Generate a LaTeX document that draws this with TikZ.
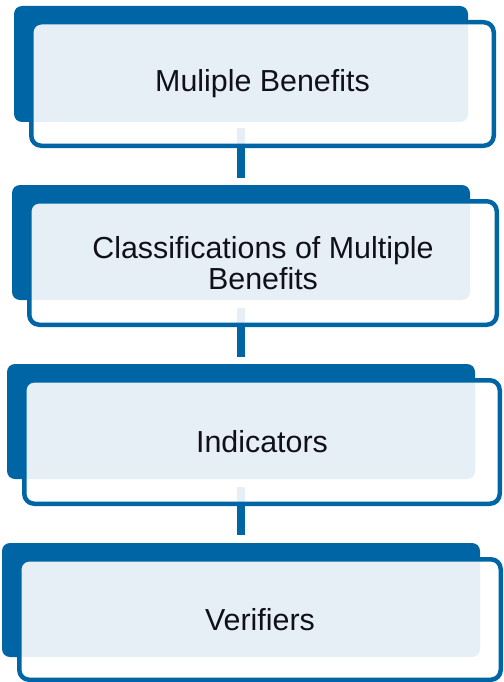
\documentclass[tikz,border=0pt]{standalone}
\usepackage{fontspec}
\setmainfont{Liberation Sans}
\definecolor{dblue}{RGB}{0,101,164}
\definecolor{txt}{RGB}{16,16,26}
\begin{document}
\begin{tikzpicture}[x=1pt,y=-1pt,
  back/.style={rectangle,rounded corners=8pt,fill=dblue,draw=none,inner sep=0pt},
  front/.style={rectangle,rounded corners=10pt,draw=dblue,line width=4.5pt,fill=white,fill opacity=0.9,draw opacity=1,text opacity=1,inner sep=0pt,align=center,text=txt,font=\fontsize{30.4}{31}\selectfont},
  conn/.style={draw=dblue,line width=8pt}]
\useasboundingbox (0,0) rectangle (503,682);
% back panels
\node[back,minimum width=454pt,minimum height=116pt] (b1) at (241,64) {};
\node[back,minimum width=458pt,minimum height=115pt] (b2) at (241,242.5) {};
\node[back,minimum width=468pt,minimum height=115pt] (b3) at (241,421.5) {};
\node[back,minimum width=478pt,minimum height=114pt] (b4) at (241,600) {};
% connectors
\draw[conn] ([yshift=-6pt]b1.south) -- ([yshift=7pt]b2.north);
\draw[conn] ([yshift=-8pt]b2.south) -- ([yshift=7pt]b3.north);
\draw[conn] ([yshift=-8pt]b3.south) -- ([yshift=8pt]b4.north);
% front boxes
\node[front,minimum width=462.5pt,minimum height=123.5pt] (f1) at (262.5,84) {Muliple Benefits};
\node[front,minimum width=467.5pt,minimum height=123.5pt] (f2) at (263,263) {Classifications of Multiple\\Benefits};
\node[front,minimum width=475.5pt,minimum height=123.5pt] (f3) at (262,442) {Indicators};
\node[front,minimum width=481.5pt,minimum height=120.5pt] (f4) at (260,619.5) {Verifiers};
\end{tikzpicture}
\end{document}
